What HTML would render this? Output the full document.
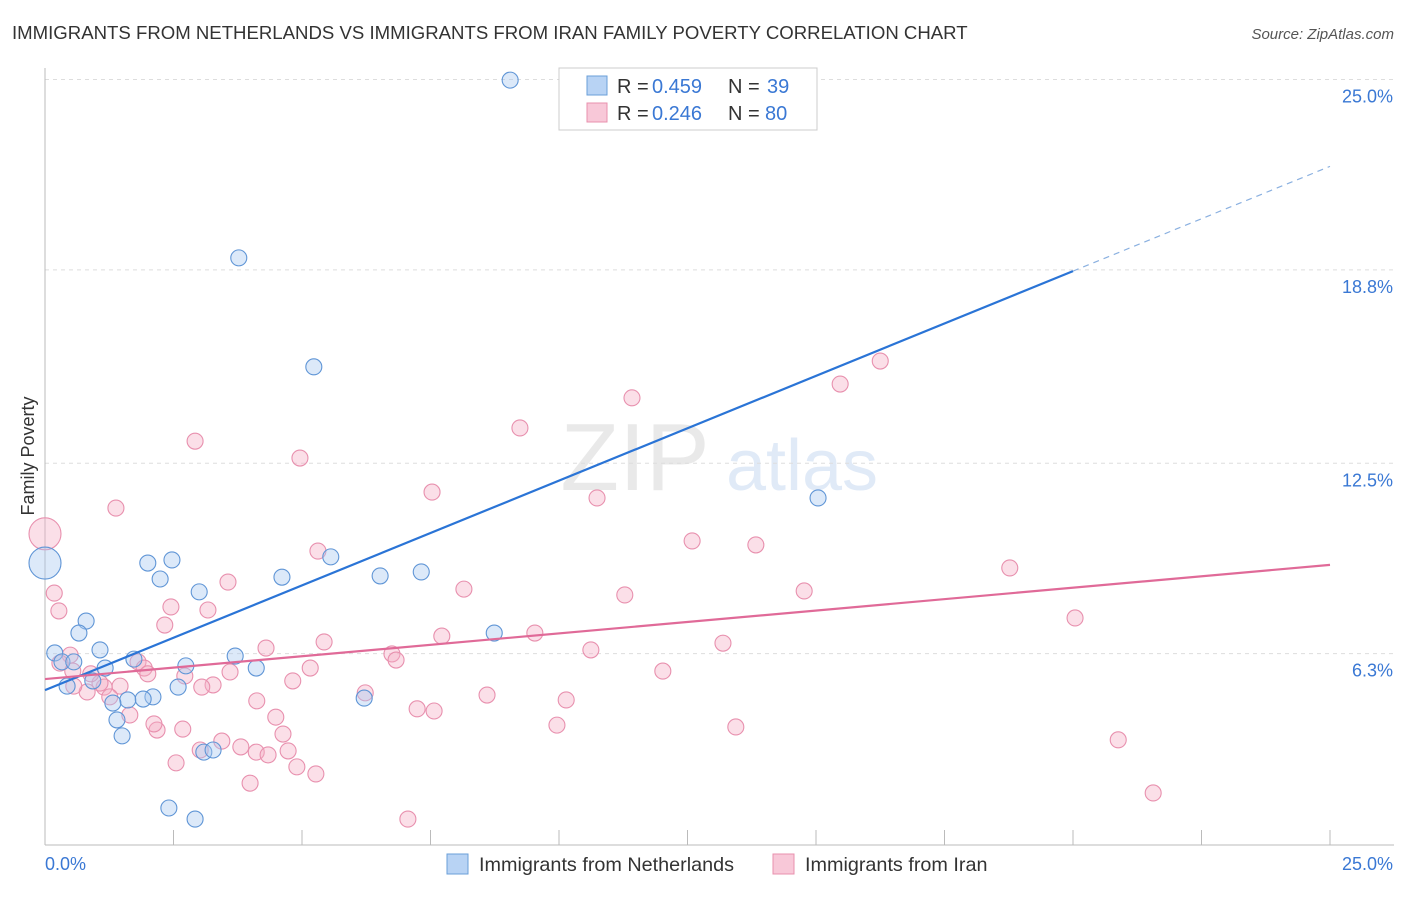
<!DOCTYPE html>
<html><head><meta charset="utf-8"><style>
body{margin:0;background:#fff;font-family:"Liberation Sans",sans-serif;}
svg text{font-family:"Liberation Sans",sans-serif;}
</style></head><body>
<svg id="chart" width="1406" height="892" xmlns="http://www.w3.org/2000/svg">
<text x="12" y="39" font-size="18.6" fill="#333">IMMIGRANTS FROM NETHERLANDS VS IMMIGRANTS FROM IRAN FAMILY POVERTY CORRELATION CHART</text>
<text x="1394" y="39" font-size="15" fill="#555" font-style="italic" text-anchor="end">Source: ZipAtlas.com</text>
<g opacity="0.18">
<text x="635" y="490" font-size="96" font-family="Liberation Serif" fill="#888" text-anchor="middle">ZIP</text>
<text x="802" y="490" font-size="72" fill="#5b8fd8" text-anchor="middle">atlas</text>
</g>
<g id="grid"></g><g id="axes"></g><g id="marks"></g>
<text transform="translate(34,456) rotate(-90)" font-size="18" fill="#333" text-anchor="middle">Family Poverty</text>
<g>
<rect x="559" y="68" width="258" height="62" fill="#fff" stroke="#ccc"/>
<rect x="587" y="76" width="20" height="19" fill="#b8d3f4" stroke="#6a9fd8"/>
<text x="617" y="93" font-size="20" fill="#333">R =</text>
<text x="652" y="93" font-size="20" fill="#3a78d4">0.459</text>
<text x="728" y="93" font-size="20" fill="#333">N =</text>
<text x="767" y="93" font-size="20" fill="#3a78d4">39</text>
<rect x="587" y="103" width="20" height="19" fill="#f8c8d8" stroke="#e890ae"/>
<text x="617" y="120" font-size="20" fill="#333">R =</text>
<text x="652" y="120" font-size="20" fill="#3a78d4">0.246</text>
<text x="728" y="120" font-size="20" fill="#333">N =</text>
<text x="765" y="120" font-size="20" fill="#3a78d4">80</text>
</g>
<g>
<rect x="447" y="854" width="21" height="20" fill="#b8d3f4" stroke="#6a9fd8"/>
<text x="479" y="871" font-size="19.8" fill="#333">Immigrants from Netherlands</text>
<rect x="773" y="854" width="21" height="20" fill="#f8c8d8" stroke="#e890ae"/>
<text x="805" y="871" font-size="19.8" fill="#333">Immigrants from Iran</text>
</g>
</svg>
<script>
const yTicks=[25.0,18.8,12.5,6.3];
const yTickLabels=["25.0%","18.8%","12.5%","6.3%"];
const xTickLabels=["0.0%","25.0%"];
const nlX=[9.05,3.77,5.23,15.04,2.00,2.47,2.24,3.00,4.61,5.56,6.52,7.32,0.80,0.66,8.74,0.19,1.07,0.33,0.56,1.73,3.70,1.17,2.74,4.11,0.43,0.93,2.59,2.10,1.91,1.61,1.32,6.21,1.40,1.50,3.09,3.27,2.41,2.92,0];
const nlY=[24.98,19.19,15.64,11.37,9.25,9.35,8.73,8.31,8.79,9.45,8.83,8.96,7.36,6.97,6.97,6.32,6.42,6.03,6.03,6.12,6.22,5.83,5.90,5.83,5.24,5.41,5.21,4.89,4.82,4.79,4.69,4.85,4.14,3.62,3.09,3.16,1.27,0.91,9.25];
const irX=[0,0.18,0.27,1.38,2.92,4.96,7.53,9.24,11.42,10.74,15.47,16.25,12.59,13.83,18.77,20.04,14.77,11.28,8.15,3.56,2.45,3.17,2.33,5.31,4.30,5.43,7.72,9.53,10.62,13.19,12.02,6.75,6.83,5.16,3.60,4.82,3.27,3.05,6.23,8.60,10.14,4.12,7.24,7.57,9.96,13.44,20.88,21.56,7.06,3.99,4.49,4.63,3.81,4.11,4.34,4.73,4.90,5.27,3.44,3.02,2.55,2.68,2.18,2.12,1.65,1.46,1.15,1.07,0.82,0.56,0.49,0.54,0.89,1.26,1.81,1.93,2.00,2.72,0.29];
const irY=[10.2,8.27,7.69,11.04,13.22,12.67,11.56,13.65,14.63,11.37,15.08,15.83,9.97,9.84,9.09,7.46,8.34,8.21,8.40,8.63,7.82,7.72,7.23,9.64,6.48,6.68,6.87,6.97,6.42,6.64,5.73,6.29,6.09,5.83,5.70,5.41,5.28,5.21,5.02,4.95,4.79,4.76,4.50,4.43,3.97,3.91,3.49,1.76,0.91,2.08,4.23,3.68,3.26,3.09,3.00,3.13,2.61,2.38,3.45,3.16,2.74,3.84,3.81,4.01,4.30,5.24,5.21,5.34,5.05,5.24,6.25,5.73,5.64,4.89,6.03,5.83,5.64,5.57,5.99];
const nlTrend=[5.11,22.17];
const irTrend=[5.47,9.19];
const NS="http://www.w3.org/2000/svg";
const sx=v=>45+v*51.4, sy=v=>847-v*30.7;
function mk(t,a,p){const e=document.createElementNS(NS,t);for(const k in a)e.setAttribute(k,a[k]);p.appendChild(e);return e;}
const grid=document.getElementById('grid'),axes=document.getElementById('axes'),marks=document.getElementById('marks');
yTicks.forEach((t,i)=>{
 const l=mk('line',{x1:45,x2:1394,y1:sy(t),y2:sy(t),stroke:'#ddd','stroke-dasharray':'4,4'},grid);
 
 
 const tx=mk('text',{x:1393,y:sy(t)+23,'font-size':18,fill:'#3a78d4','text-anchor':'end'},axes);
 tx.textContent=yTickLabels[i];
 
 
});
const ax=mk('line',{x1:45,x2:45,y1:68,y2:845,stroke:'#bbb'},axes);


const xa=mk('line',{x1:45,x2:1394,y1:845,y2:845,stroke:'#bbb'},axes);


for(let i=0;i<=10;i++){const tk=mk('line',{x1:sx(i*2.5),x2:sx(i*2.5),y1:830,y2:845,stroke:'#bbb'},axes);
 
 }
[[0,45,'start'],[25,1393,'end']].forEach((d,i)=>{const t=mk('text',{x:d[1],y:870,'font-size':18,fill:'#3a78d4','text-anchor':d[2]},axes);t.textContent=xTickLabels[i];
 
 });
function pts(X,Y,fill,stroke,name){X.forEach((x,i)=>{const big=(x===0);
 const c=mk('circle',{cx:sx(x),cy:sy(Y[i]),r:big?16:8,fill:fill,'fill-opacity':0.4,stroke:stroke,'stroke-width':1.1},marks);
 
 });}
pts(irX,irY,'#f4b0c6','#e890ae','iran-point');
pts(nlX,nlY,'#a8c8f0','#5f95d6','netherlands-point');
const bx=20,by=nlTrend[0]+(nlTrend[1]-nlTrend[0])*bx/25;
const b1=mk('line',{x1:sx(0),y1:sy(nlTrend[0]),x2:sx(bx),y2:sy(by),stroke:'#2a74d6','stroke-width':2.2},marks);


const b2=mk('line',{x1:sx(bx),y1:sy(by),x2:sx(25),y2:sy(nlTrend[1]),stroke:'#8ab0e0','stroke-width':1.2,'stroke-dasharray':'6,5'},marks);


const p1=mk('line',{x1:sx(0),y1:sy(irTrend[0]),x2:sx(25),y2:sy(irTrend[1]),stroke:'#e06a98','stroke-width':2.2},marks);


</script>
</body></html>
